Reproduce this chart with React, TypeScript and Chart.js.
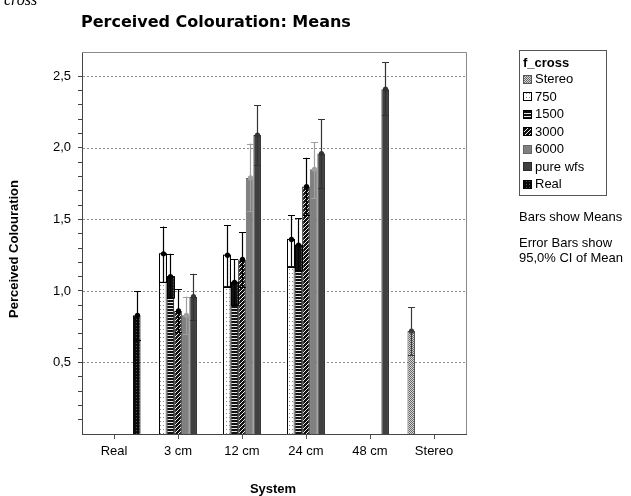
import React, { useEffect, useRef } from "react";
import { Chart, registerables } from "chart.js";
Chart.register(...registerables);

const categories = ["Real", "3 cm", "12 cm", "24 cm", "48 cm", "Stereo"];
const seriesNames = ["Stereo", "750", "1500", "3000", "6000", "pure wfs", "Real"];

const meanStereo = [null, null, null, null, null, 0.72];
const mean750 = [null, 1.26, 1.25, 1.36, null, null];
const mean1500 = [null, 1.1, 1.06, 1.32, null, null];
const mean3000 = [null, 0.86, 1.22, 1.73, null, null];
const mean6000 = [null, 0.83, 1.79, 1.85, null, null];
const meanPureWfs = [null, 0.96, 2.09, 1.96, 2.41, null];
const meanReal = [0.83, null, null, null, null, null];

const upperStereo = [null, null, null, null, null, 0.885];
const upper750 = [null, 1.45, 1.46, 1.53, null, null];
const upper1500 = [null, 1.26, 1.22, 1.51, null, null];
const upper3000 = [null, 1.01, 1.41, 1.93, null, null];
const upper6000 = [null, 0.96, 2.03, 2.04, null, null];
const upperPureWfs = [null, 1.12, 2.3, 2.2, 2.6, null];
const upperReal = [1.0, null, null, null, null, null];

const lowerStereo = [null, null, null, null, null, 0.55];
const lower750 = [null, 1.06, 1.03, 1.17, null, null];
const lower1500 = [null, 0.95, 0.9, 1.14, null, null];
const lower3000 = [null, 0.71, 1.03, 1.53, null, null];
const lower6000 = [null, 0.7, 1.56, 1.65, null, null];
const lowerPureWfs = [null, 0.8, 1.88, 1.72, 2.23, null];
const lowerReal = [0.66, null, null, null, null, null];

const yTickValues = [0.5, 1.0, 1.5, 2.0, 2.5];
const yTickLabels = ["0,5", "1,0", "1,5", "2,0", "2,5"];

const means = [meanStereo, mean750, mean1500, mean3000, mean6000, meanPureWfs, meanReal];
const uppers = [upperStereo, upper750, upper1500, upper3000, upper6000, upperPureWfs, upperReal];
const lowers = [lowerStereo, lower750, lower1500, lower3000, lower6000, lowerPureWfs, lowerReal];

const whiskerColors = ["#3a3a3a", "#000000", "#000000", "#000000", "#a0a0a0", "#333333", "#000000"];
const borderColors = ["#555555", "#000000", "#000000", "#000000", "#666666", "#2a2a2a", "#000000"];
const lowerFill = ["none", "white", "black", "none", "none", "none", "none"];

const SANS = "'Liberation Sans', Arial, sans-serif";

function makePattern(kind: string): CanvasPattern | string {
  const c = document.createElement("canvas");
  const g = c.getContext("2d")!;
  const px = (x: number, y: number, col: string) => {
    g.fillStyle = col;
    g.fillRect(x, y, 1, 1);
  };
  if (kind === "stereo") {
    c.width = 2; c.height = 2;
    g.fillStyle = "#d4d4d4"; g.fillRect(0, 0, 2, 2);
    px(0, 0, "#6a6a6a"); px(1, 1, "#6a6a6a");
  } else if (kind === "750") {
    c.width = 3; c.height = 4;
    g.fillStyle = "#ffffff"; g.fillRect(0, 0, 3, 4);
    px(1, 1, "#8a8a8a");
  } else if (kind === "1500") {
    c.width = 2; c.height = 3;
    g.fillStyle = "#111111"; g.fillRect(0, 0, 2, 3);
    g.fillStyle = "#e8e8e8"; g.fillRect(0, 2, 2, 1);
  } else if (kind === "3000") {
    c.width = 4; c.height = 4;
    g.fillStyle = "#111111"; g.fillRect(0, 0, 4, 4);
    px(0, 3, "#f0f0f0"); px(1, 2, "#f0f0f0"); px(2, 1, "#f0f0f0"); px(3, 0, "#f0f0f0");
  } else if (kind === "real") {
    c.width = 3; c.height = 3;
    g.fillStyle = "#0a0a0a"; g.fillRect(0, 0, 3, 3);
    px(1, 1, "#555555");
  } else {
    return kind;
  }
  return g.createPattern(c, "repeat")!;
}

export default function App() {
  const ref = useRef<HTMLCanvasElement | null>(null);

  useEffect(() => {
    if (!ref.current) return;
    const fills = [
      makePattern("stereo"),
      makePattern("750"),
      makePattern("1500"),
      makePattern("3000"),
      "#808080",
      "#404040",
      makePattern("real"),
    ];

    const decorPlugin = {
      id: "decor",
      beforeDatasetsDraw(chart: any) {
        const { ctx, chartArea } = chart;
        const ys = chart.scales.y;
        ctx.save();
        ctx.strokeStyle = "#8c8c8c";
        ctx.lineWidth = 1;
        ctx.setLineDash([2, 2]);
        yTickValues.forEach((v) => {
          const y = Math.round(ys.getPixelForValue(v)) + 0.5;
          ctx.beginPath();
          ctx.moveTo(chartArea.left + 1, y);
          ctx.lineTo(chartArea.right, y);
          ctx.stroke();
        });
        ctx.setLineDash([]);
        ctx.strokeStyle = "#8a8a8a";
        ctx.beginPath();
        ctx.moveTo(chartArea.left, Math.round(chartArea.top) + 0.5);
        ctx.lineTo(Math.round(chartArea.right) + 0.5, Math.round(chartArea.top) + 0.5);
        ctx.lineTo(Math.round(chartArea.right) + 0.5, chartArea.bottom);
        ctx.stroke();
        ctx.restore();
      },
      afterDatasetsDraw(chart: any) {
        const { ctx } = chart;
        const ys = chart.scales.y;
        ctx.save();
        chart.data.datasets.forEach((ds: any, di: number) => {
          const meta = chart.getDatasetMeta(di);
          meta.data.forEach((bar: any, i: number) => {
            const m = means[di][i];
            if (m == null) return;
            const lo = lowers[di][i] as number;
            const hi = uppers[di][i] as number;
            const { x, width } = bar.getProps(["x", "width"], true);
            const yM = ys.getPixelForValue(m);
            const yL = ys.getPixelForValue(lo);
            const yH = ys.getPixelForValue(hi);
            const xc = Math.round(x) + 0.5;
            const half = 3.5;
            if (lowerFill[di] !== "none") {
              ctx.fillStyle = lowerFill[di] === "white" ? "#ffffff" : "#111111";
              const l = x - width / 2 + 1;
              ctx.fillRect(l, yM, width - 2, yL - yM);
              ctx.strokeStyle = "#000";
              ctx.lineWidth = 1;
              ctx.strokeRect(Math.round(x - width / 2) + 0.5, yM, Math.round(width) - 1, yL - yM);
            }
            ctx.strokeStyle = whiskerColors[di];
            ctx.lineWidth = 1.2;
            ctx.beginPath();
            ctx.moveTo(xc, yH);
            ctx.lineTo(xc, yL);
            ctx.moveTo(xc - half, Math.round(yH) + 0.5);
            ctx.lineTo(xc + half, Math.round(yH) + 0.5);
            ctx.moveTo(xc - half, Math.round(yL) + 0.5);
            ctx.lineTo(xc + half, Math.round(yL) + 0.5);
            ctx.stroke();
            ctx.fillStyle = whiskerColors[di];
            ctx.beginPath();
            ctx.arc(xc, yM, 2.6, 0, Math.PI * 2);
            ctx.fill();
          });
        });
        ctx.restore();
      },
      afterDraw(chart: any) {
        const { ctx } = chart;
        ctx.save();
        ctx.fillStyle = "#000";
        ctx.textBaseline = "alphabetic";
        ctx.textAlign = "left";
        ctx.font = "italic 16px 'Liberation Serif', 'Times New Roman', serif";
        ctx.fillText("cross", 4, 5);
        ctx.font = "bold 16px 'DejaVu Sans', Verdana, sans-serif";
        ctx.fillText("Perceived Colouration: Means", 81, 27);
        ctx.font = "bold 13px " + SANS;
        ctx.save();
        ctx.translate(18, 249);
        ctx.rotate(-Math.PI / 2);
        ctx.textAlign = "center";
        ctx.textBaseline = "alphabetic";
        ctx.fillText("Perceived Colouration", 0, 0);
        ctx.restore();
        ctx.textAlign = "center";
        ctx.fillText("System", 273, 493);
        const lx = 519, ly = 50, lw = 87, lh = 145;
        ctx.strokeStyle = "#555";
        ctx.lineWidth = 1;
        ctx.strokeRect(lx + 0.5, ly + 0.5, lw, lh);
        ctx.textAlign = "left";
        ctx.font = "bold 13px " + SANS;
        ctx.fillStyle = "#000";
        ctx.fillText("f_cross", 523, 67);
        ctx.font = "13px " + SANS;
        seriesNames.forEach((name, k) => {
          const cy = 79 + k * 17.5;
          const sy = Math.round(cy - 4.5);
          ctx.fillStyle = fills[k] as any;
          ctx.fillRect(523, sy, 9, 9);
          ctx.strokeStyle = borderColors[k];
          ctx.strokeRect(523.5, sy + 0.5, 8, 8);
          ctx.fillStyle = "#000";
          ctx.textBaseline = "middle";
          ctx.fillText(name, 535, cy + 0.5);
        });
        ctx.textBaseline = "middle";
        ctx.fillText("Bars show Means", 519, 217);
        ctx.fillText("Error Bars show", 519, 243);
        ctx.fillText("95,0% CI of Mean", 519, 258);
        ctx.restore();
      },
    };

    const chart = new Chart(ref.current, {
      type: "bar",
      data: {
        labels: categories,
        datasets: seriesNames.map((name, k) => ({
          label: name,
          data: means[k] as any,
          backgroundColor: fills[k] as any,
          borderColor: borderColors[k],
          borderWidth: 1,
          categoryPercentage: 0.83,
          barPercentage: 1.0,
        })),
      },
      options: {
        responsive: false,
        animation: false,
        devicePixelRatio: 1,
        layout: { padding: { top: 52, right: 165, left: 0, bottom: 0 } },
        plugins: {
          legend: { display: false },
          tooltip: { enabled: false },
          title: { display: false },
        },
        scales: {
          x: {
            type: "category",
            offset: true,
            grid: {
              offset: false,
              drawOnChartArea: false,
              drawTicks: true,
              tickLength: 5,
              tickColor: "#555",
              color: "#555",
            },
            border: { display: true, color: "#444", width: 1 },
            ticks: {
              padding: 5,
              color: "#000",
              font: { family: SANS, size: 13 },
              maxRotation: 0,
              autoSkip: false,
            },
            afterFit: (s: any) => {
              s.height = 62;
            },
          },
          y: {
            min: 0,
            max: 2.67,
            grid: {
              drawOnChartArea: false,
              drawTicks: true,
              tickLength: 4,
              tickColor: "#444",
              color: "#444",
            },
            border: { display: true, color: "#444", width: 1 },
            ticks: {
              stepSize: 0.1,
              autoSkip: false,
              padding: 7,
              color: "#000",
              font: { family: SANS, size: 13 },
              callback: (v: any) => {
                const idx = yTickValues.findIndex((t) => Math.abs(t - Number(v)) < 1e-6);
                return idx >= 0 ? yTickLabels[idx] : "";
              },
            },
            afterBuildTicks: (s: any) => {
              s.ticks = s.ticks.filter((t: any) => {
                const r = t.value * 10;
                return Math.abs(r - Math.round(r)) < 1e-6 && t.value > 0.05 && t.value < 2.65;
              });
            },
            afterFit: (s: any) => {
              s.width = 82;
            },
          },
        },
      },
      plugins: [decorPlugin],
    });
    return () => chart.destroy();
  }, []);

  return (
    <div style={{ position: "absolute", left: 0, top: 0, width: 631, height: 496, background: "#fff" }}>
      <canvas ref={ref} width={631} height={496} style={{ display: "block" }} />
    </div>
  );
}
